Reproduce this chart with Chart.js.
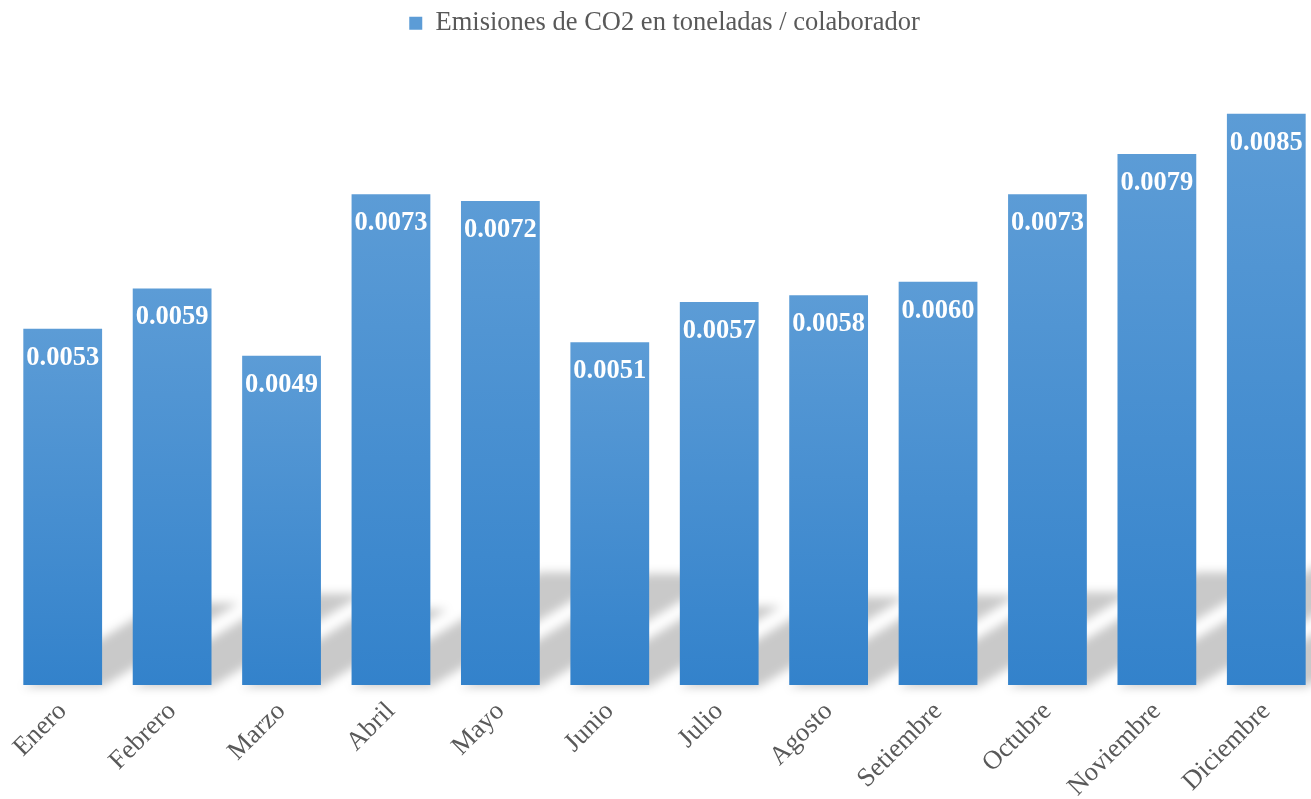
<!DOCTYPE html>
<html>
<head>
<meta charset="utf-8">
<script src="https://cdn.jsdelivr.net/npm/chart.js@4.4.1/dist/chart.umd.min.js"></script>
<style>
  html, body { margin: 0; padding: 0; background: #fff; overflow: hidden; }
  #wrap { width: 1336px; height: 799px; }
</style>
</head>
<body>
<div id="wrap"><canvas id="co2Chart"></canvas></div>
<script>
const months = ['Enero', 'Febrero', 'Marzo', 'Abril', 'Mayo', 'Junio', 'Julio', 'Agosto', 'Setiembre', 'Octubre', 'Noviembre', 'Diciembre'];
const emissions = [0.0053, 0.0059, 0.0049, 0.0073, 0.0072, 0.0051, 0.0057, 0.0058, 0.0060, 0.0073, 0.0079, 0.0085];
const seriesName = 'Emisiones de CO2 en toneladas / colaborador';

const serif = '"Liberation Serif", "Times New Roman", serif';

// slanted, blurred floor shadow behind every bar
const barShadow = {
    id: 'barShadow',
    beforeDatasetsDraw(chart) {
        const ctx = chart.ctx;
        const meta = chart.getDatasetMeta(0);
        ctx.save();
        ctx.filter = 'blur(5px)';
        ctx.fillStyle = 'rgba(0, 0, 0, 0.21)';
        ctx.beginPath();
        meta.data.forEach(bar => {
            const half = bar.width / 2;
            const base = bar.base;
            const h = (base - bar.y) * 0.23;
            const dx = h / 0.6;
            ctx.moveTo(bar.x - half, base + 2);
            ctx.lineTo(bar.x + half, base + 2);
            ctx.lineTo(bar.x + half + dx, base - h);
            ctx.lineTo(bar.x - half + dx, base - h);
            ctx.closePath();
        });
        ctx.fill();
        ctx.restore();
    }
};

// value printed inside the top of each bar
const barValues = {
    id: 'barValues',
    afterDatasetsDraw(chart) {
        const ctx = chart.ctx;
        const meta = chart.getDatasetMeta(0);
        ctx.save();
        ctx.font = 'bold 26.5px ' + serif;
        ctx.fillStyle = '#ffffff';
        ctx.textAlign = 'center';
        ctx.textBaseline = 'middle';
        meta.data.forEach((bar, i) => {
            ctx.fillText(emissions[i].toFixed(4), bar.x, bar.y + 29);
        });
        ctx.restore();
    }
};

function barFill(context) {
    const chart = context.chart;
    const area = chart.chartArea;
    if (!area || context.type !== 'data') return '#4b90d5';
    const top = chart.scales.y.getPixelForValue(context.raw);
    const g = chart.ctx.createLinearGradient(0, top, 0, area.bottom);
    g.addColorStop(0, '#5c9cd6');
    g.addColorStop(1, '#3382cb');
    return g;
}

new Chart(document.getElementById('co2Chart'), {
    type: 'bar',
    data: {
        labels: months,
        datasets: [{
            label: seriesName,
            data: emissions,
            backgroundColor: barFill,
            borderWidth: 0,
            categoryPercentage: 1,
            barPercentage: 0.72
        }]
    },
    options: {
        responsive: true,
        maintainAspectRatio: false,
        animation: false,
        layout: { padding: { left: 8, right: 15, top: 0, bottom: 0 } },
        plugins: {
            legend: {
                position: 'top',
                labels: {
                    color: '#595959',
                    font: { family: serif, size: 26.5 },
                    boxWidth: 13,
                    boxHeight: 13,
                    padding: 10
                }
            },
            tooltip: { enabled: false }
        },
        scales: {
            x: {
                grid: { display: false },
                border: { display: false },
                ticks: {
                    color: '#595959',
                    font: { family: serif, size: 26.5 },
                    minRotation: 45,
                    maxRotation: 45,
                    autoSkip: false
                },
                afterFit(scale) { scale.height = 114; }
            },
            y: {
                display: false,
                beginAtZero: true,
                min: 0,
                max: 0.0095
            }
        }
    },
    plugins: [barShadow, barValues]
});
</script>
</body>
</html>
